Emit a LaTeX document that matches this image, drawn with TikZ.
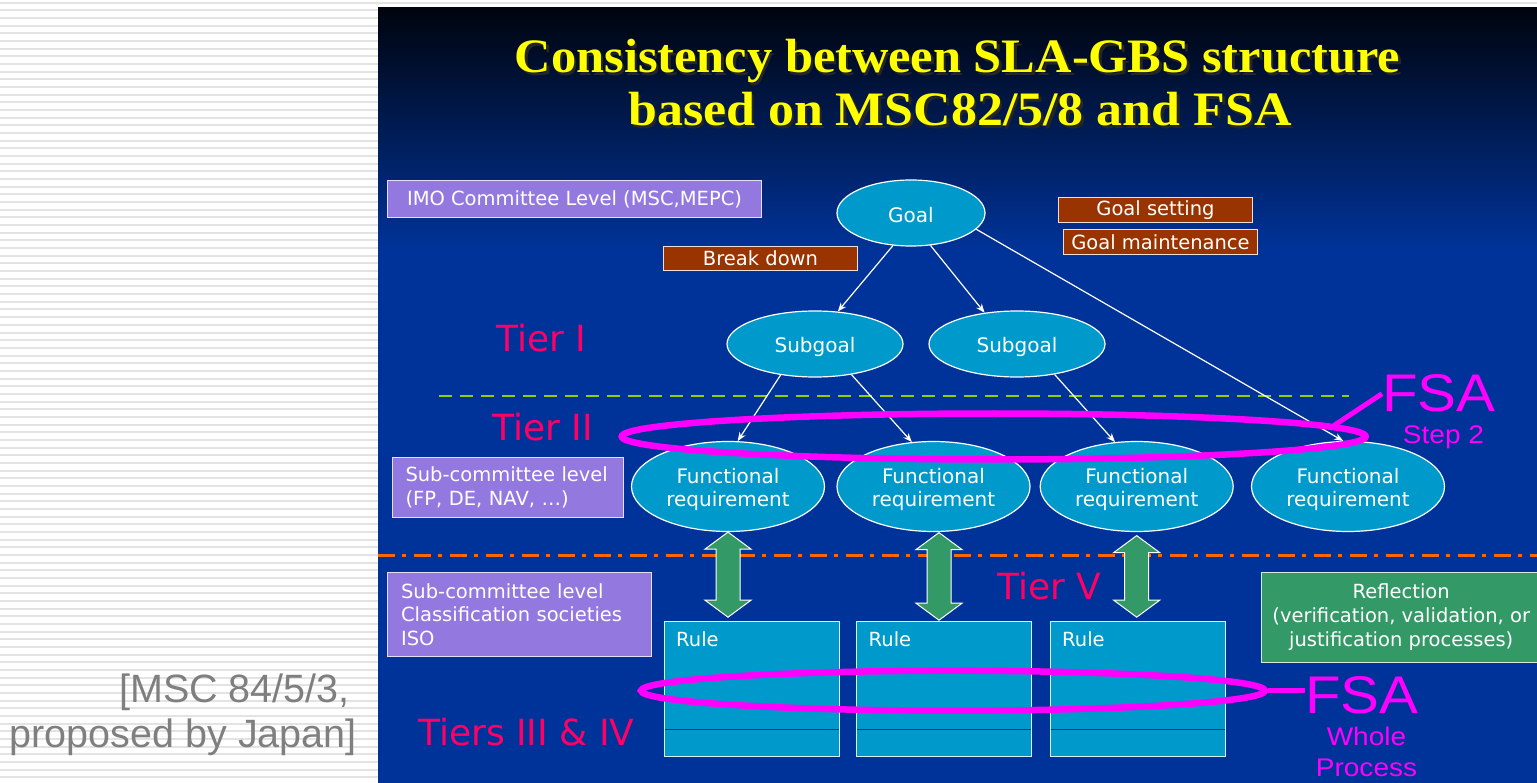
\documentclass[tikz,border=0pt]{standalone}
\usepackage{fontspec}
\setmainfont{DejaVu Sans}
\newfontfamily\titlefont[FakeStretch=1.05]{Liberation Serif}
\newfontfamily\fsafont[FakeStretch=1.1]{Liberation Sans}
\newfontfamily\citefont{Liberation Sans}
\usetikzlibrary{shapes.geometric,arrows.meta,calc}
\definecolor{panelblue}{HTML}{003399}
\definecolor{paneltop}{HTML}{00040E}
\definecolor{nodecyan}{HTML}{0099CC}
\definecolor{lavender}{HTML}{9379DF}
\definecolor{brick}{HTML}{993300}
\definecolor{seagreen}{HTML}{339966}
\definecolor{tierpink}{HTML}{FF0066}
\definecolor{fsamag}{HTML}{FF00FF}
\definecolor{dashgreen}{HTML}{99CC00}
\definecolor{dashorange}{HTML}{FF6600}
\definecolor{stripegray}{HTML}{E3E3E3}
\definecolor{citegray}{HTML}{7F7F7F}
\definecolor{titleyellow}{HTML}{FFFF00}
\newcommand\setfs[2]{\fontsize{#1}{#2}\selectfont}
\begin{document}
\begin{tikzpicture}[x=1pt,y=-1pt,
  ell/.style={ellipse, draw=white, line width=1.2pt, fill=nodecyan, inner sep=0pt},
  eltext/.style={text=white, align=center, inner sep=0pt, font=\setfs{20}{23}, yshift=-2.5pt},
  lbox/.style={rectangle, anchor=north west, draw=white!75!lavender, line width=1pt, fill=lavender, text=white, inner sep=0pt, font=\setfs{19.5}{23.5}},
  bbox/.style={rectangle, anchor=north west, draw=white!85!brick, line width=1pt, fill=brick, text=white, inner sep=0pt, font=\setfs{19.5}{22}},
  gbox/.style={rectangle, anchor=north west, draw=white!80!seagreen, line width=1pt, fill=seagreen, text=white, inner sep=0pt, align=center, font=\setfs{19.5}{24}},
  rulebox/.style={rectangle, anchor=north west, draw=white!85!nodecyan, line width=1pt, fill=nodecyan, inner sep=0pt, minimum width=175pt, minimum height=135pt},
  rulelabel/.style={anchor=base west, inner sep=0pt, text=white, font=\setfs{19.5}{22}},
  flow/.style={draw=white, line width=1.2pt, -{Stealth[length=9pt,width=7pt]}},
  tier/.style={anchor=base west, inner sep=0pt, text=tierpink, font=\setfs{36}{40}},
  fsaring/.style={ellipse, draw=fsamag, line width=6.5pt, inner sep=0pt},
  fsalink/.style={draw=fsamag, line width=5pt},
  fsabig/.style={anchor=base west, inner sep=0pt, text=fsamag, font=\fsafont\setfs{53}{58}},
  fsasmall/.style={anchor=base, inner sep=0pt, text=fsamag, font=\fsafont\setfs{25.5}{30}},
  titletext/.style={anchor=base, inner sep=0pt, font=\titlefont\bfseries\setfs{48}{52}},
  cite/.style={anchor=base east, inner sep=0pt, text=citegray, font=\citefont\setfs{39.5}{45}},
  dbl/.style={draw=white, line width=1pt, fill=seagreen,
    to path={let \p1=(\tikztostart), \p2=(\tikztotarget) in
      (\x1,\y1) -- ({\x1+23pt},{\y1-17pt}) -- ({\x1+12pt},{\y1-17pt}) -- ({\x1+12pt},{\y2+17pt})
      -- ({\x1+23pt},{\y2+17pt}) -- (\x1,\y2) -- ({\x1-23pt},{\y2+17pt}) -- ({\x1-12pt},{\y2+17pt})
      -- ({\x1-12pt},{\y1-17pt}) -- ({\x1-23pt},{\y1-17pt}) -- cycle}}
]
\useasboundingbox (0,0) rectangle (1537,783);
% striped background
\fill[white] (0,0) rectangle (1537,783);
\foreach \i in {0,...,102} \fill[stripegray] (0,{1.7+\i*7.67}) rectangle (1537,{3.7+\i*7.67});
% slide panel
\fill[panelblue] (378,8) rectangle (1537,783);
\shade[top color=paneltop, bottom color=panelblue] (378,8) rectangle (1537,250);

% title
\node[titletext, text=black!85] (title1s) at (960,75.5) {Consistency between SLA-GBS structure};
\node[titletext, text=titleyellow] (title1) at (957.5,73) {Consistency between SLA-GBS structure};
\node[titletext, text=black!85, xscale=1.03] (title2s) at (962.5,128.5) {based on MSC82/5/8 and FSA};
\node[titletext, text=titleyellow, xscale=1.03] (title2) at (960,126) {based on MSC82/5/8 and FSA};

% guide lines
\draw[dashgreen, line width=2.5pt, dash pattern=on 13pt off 8pt] (439,396) -- (1349,396);
\draw[dashorange, line width=3pt, dash pattern=on 17pt off 7pt on 4pt off 8pt] (378,555.5) -- (1537,555.5);

% label boxes
\node[lbox, minimum width=374pt, minimum height=37pt] (imo) at (387,180) {IMO Committee Level (MSC,MEPC)};
\node[lbox, minimum width=230.6pt, minimum height=60pt, inner xsep=13pt, text width=204.6pt, align=left] (sub1) at (392,457) {Sub-committee level\\(FP, DE, NAV, \dots)};
\node[lbox, minimum width=263.5pt, minimum height=84.3pt, inner xsep=13.6pt, text width=236.3pt, align=left] (sub2) at (387,571.7) {Sub-committee level\\Classification societies\\ISO};
\node[bbox, minimum width=194pt, minimum height=25pt] (goalset) at (1058,197) {Goal setting};
\node[bbox, minimum width=194pt, minimum height=25pt] (goalmaint) at (1063,229) {Goal maintenance};
\node[bbox, minimum width=194pt, minimum height=24pt] (breakdown) at (663,246) {Break down};
\node[gbox, minimum width=280pt, minimum height=90pt] (reflect) at (1260.7,571.7) {Reflection\\(verification, validation, or\\justification processes)};

% tiers
\node[tier] (tier1) at (496,352) {Tier I};
\node[tier] (tier2) at (492,440) {Tier II};
\node[tier] (tier5) at (997,599) {Tier V};
\node[tier] (tier34) at (418,745) {Tiers III \& IV};

% goal tree
\node[ell, minimum width=148pt, minimum height=66pt, label={[eltext]center:Goal}] (goal) at (911,213) {};
\node[ell, minimum width=176pt, minimum height=66pt, label={[eltext]center:Subgoal}] (sg1) at (815,344) {};
\node[ell, minimum width=176pt, minimum height=66pt, label={[eltext]center:Subgoal}] (sg2) at (1017,344) {};
\node[ell, minimum width=193pt, minimum height=90pt, label={[eltext]center:Functional\\requirement}] (fr1) at (728,486.5) {};
\node[ell, minimum width=193pt, minimum height=90pt, label={[eltext]center:Functional\\requirement}] (fr2) at (933.5,486.5) {};
\node[ell, minimum width=193pt, minimum height=90pt, label={[eltext]center:Functional\\requirement}] (fr3) at (1136.7,486.5) {};
\node[ell, minimum width=193pt, minimum height=90pt, label={[eltext]center:Functional\\requirement}] (fr4) at (1348,486.5) {};

\draw[flow] (goal.241) -- (sg1.55);
\draw[flow] (goal.-59) -- (sg2.136);
\draw[flow] (goal.-14) -- (fr4.96);
\draw[flow] (sg1.222) -- (fr1.78);
\draw[flow] (sg1.-40) -- (fr2.116);
\draw[flow] (sg2.-39) -- (fr3.116);

% rules
\node[rulebox] (rule1) at (663.5,620.7) {};
\node[rulebox] (rule2) at (856,620.7) {};
\node[rulebox] (rule3) at (1049.5,620.7) {};
\foreach \r in {rule1,rule2,rule3}{
  \draw[panelblue, line width=1pt] ($(\r.south west)+(1,-27)$) -- ($(\r.south east)+(-1,-27)$);
  \node[rulelabel] (\r-label) at ($(\r.north west)+(12.5,26)$) {Rule};
}

% double arrows
\draw[dbl] (fr1.south) to ($(rule1.north)+(0,-3.5)$);
\draw[dbl] ($(fr2.south)+(5.5,0.5)$) to ($(rule2.north)+(0,-0.5)$);
\draw[dbl] ($(fr3.south)+(0,3.5)$) to ($(rule3.north)+(0,-3.5)$);

% FSA rings
\node[fsaring, minimum width=744pt, minimum height=46pt] (ring1) at (993.7,436.5) {};
\node[fsaring, minimum width=624pt, minimum height=40pt] (ring2) at (953,690.7) {};
\node[fsabig] (fsa1) at (1382,412) {FSA};
\node[fsasmall] (step2) at (1443.5,443.5) {Step 2};
\draw[fsalink] ($(ring1.east)+(-35,-11)$) -- (fsa1.west);
\node[fsabig] (fsa2) at (1305,713) {FSA};
\node[fsasmall] (whole) at (1366.5,745) {Whole};
\node[fsasmall] (process) at (1366.5,776) {Process};
\draw[fsalink] (ring2.east) -- (ring2.east -| fsa2.west);

% citation
\node[cite] (cite1) at (350,702) {[MSC 84/5/3,};
\node[cite] (cite2) at (357,747) {proposed by Japan]};
\end{tikzpicture}
\end{document}
